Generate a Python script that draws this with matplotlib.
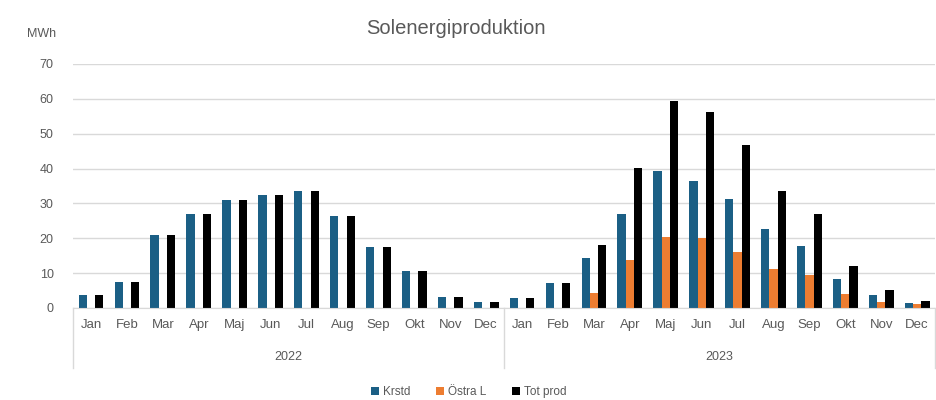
import numpy as np
import matplotlib.pyplot as plt

plt.rcParams['font.family'] = ['Liberation Sans', 'DejaVu Sans']

months = ["Jan", "Feb", "Mar", "Apr", "Maj", "Jun", "Jul", "Aug", "Sep", "Okt", "Nov", "Dec"]
years = ["2022", "2023"]

krstd = [3.8, 7.6, 20.9, 26.9, 31.0, 32.4, 33.7, 26.5, 17.4, 10.5, 3.2, 1.6,
         2.8, 7.1, 14.3, 26.9, 39.2, 36.5, 31.2, 22.7, 17.8, 8.2, 3.6, 1.3]
ostra = [0, 0, 0, 0, 0, 0, 0, 0, 0, 0, 0, 0,
         0, 0, 4.4, 13.8, 20.4, 20.1, 16.2, 11.3, 9.4, 3.9, 1.8, 1.1]
tot_prod = [3.8, 7.6, 20.9, 26.9, 31.0, 32.4, 33.7, 26.5, 17.4, 10.5, 3.2, 1.6,
            2.8, 7.1, 18.1, 40.3, 59.5, 56.3, 46.8, 33.7, 26.9, 12.1, 5.2, 2.1]

blue = "#1b5f85"
orange = "#ed7d31"
grid_col = "#d9d9d9"
text_col = "#595959"

fig = plt.figure(figsize=(9.37, 4), dpi=100)
ax = fig.add_axes([0.078, 0.23, 0.92, 0.61])

x = np.arange(len(krstd))
w = 0.23

ax.bar(x - w, krstd, w, color=blue, label="Krstd")
ax.bar(x, ostra, w, color=orange, label="Östra L")
ax.bar(x + w, tot_prod, w, color="black", label="Tot prod")

ax.set_xlim(-0.5, len(krstd) - 0.5)
ax.set_ylim(0, 70)
ax.set_yticks(range(0, 71, 10))
ax.yaxis.grid(True, color=grid_col, linewidth=1)
ax.set_axisbelow(True)
ax.tick_params(axis="y", length=0, pad=14, labelsize=9, labelcolor=text_col)
ax.tick_params(axis="x", length=0, pad=8, labelsize=9.5, labelcolor=text_col)
ax.set_xticks(x)
ax.set_xticklabels(months * 2)

for s in ["top", "right", "left"]:
    ax.spines[s].set_visible(False)
ax.spines["bottom"].set_color(grid_col)

# year separators and labels under the month labels
for xs in [-0.5, 11.5, 23.5]:
    ax.plot([xs, xs], [0, -0.245], transform=ax.get_xaxis_transform(),
            color=grid_col, linewidth=1, clip_on=False)
for i, yr in enumerate(years):
    ax.text(5.5 + 12 * i, -0.2, yr, transform=ax.get_xaxis_transform(),
            ha="center", va="center", fontsize=9, color=text_col)

fig.text(0.487, 0.93, "Solenergiproduktion", ha="center", va="center",
         fontsize=14.5, color=text_col)
fig.text(0.044, 0.915, "MWh", ha="center", va="center", fontsize=9, color=text_col)

ax.legend(loc="center", bbox_to_anchor=(0.5, 0.02), bbox_transform=fig.transFigure,
          ncol=3, frameon=False, fontsize=8.5, handlelength=0.7, handleheight=0.7,
          handletextpad=0.3, columnspacing=2.2, labelcolor=text_col)

plt.savefig("out.png", dpi=100)
